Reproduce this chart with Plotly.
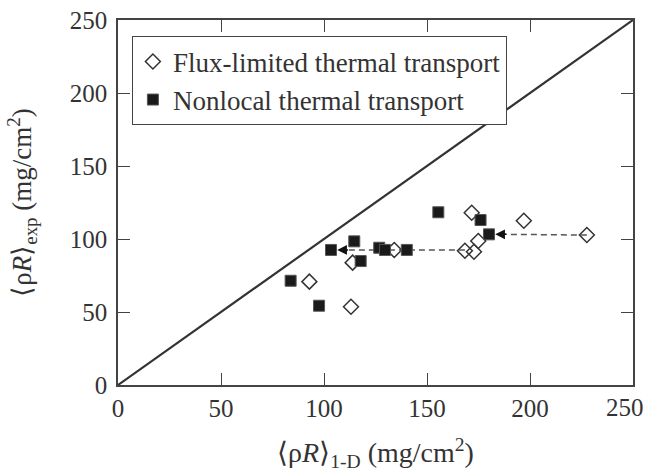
import plotly.graph_objects as go

# Flux-limited thermal transport (open diamonds)
flux_x = [92.9, 113.1, 113.9, 134.1, 168.4, 171.7, 172.8, 174.9, 197.0, 227.6]
flux_y = [70.8, 53.6, 83.8, 92.5, 92.0, 118.0, 91.3, 98.6, 112.5, 102.7]

# Nonlocal thermal transport (filled squares)
nonloc_x = [83.8, 97.6, 103.4, 114.7, 117.8, 126.8, 129.6, 140.2, 155.5, 176.0, 180.1]
nonloc_y = [71.4, 54.3, 92.5, 98.4, 84.9, 94.0, 92.5, 92.5, 118.3, 113.0, 103.2]

# Arrows: from flux-limited point to nonlocal point
arrow_from = [(227.6, 102.7), (168.4, 92.5)]
arrow_to = [(180.1, 103.2), (103.4, 92.5)]

diag = [0, 250]
ticks = [0, 50, 100, 150, 200, 250]
x_tick_labels = ["0", "50", "100", "150", "200", ""]
x_last_label = "250"   # drawn slightly inward so it fits the page edge
y_tick_labels = ["0", "50", "100", "150", "200", "250"]

font_family = "Liberation Serif"
FS = 25

fig = go.Figure()

fig.add_trace(go.Scatter(x=diag, y=diag, mode="lines",
                         line=dict(color="#333333", width=2.2),
                         showlegend=False, hoverinfo="skip"))

for (x0, y0), (x1, y1) in zip(arrow_from, arrow_to):
    tip = x1 + 3
    fig.add_trace(go.Scatter(x=[x0, tip + 4], y=[y0, y1], mode="lines",
                             line=dict(color="#555555", width=1.5, dash="6px,4px"),
                             showlegend=False, hoverinfo="skip"))
    fig.add_annotation(x=tip, y=y1, ax=tip + 6, ay=y1, xref="x", yref="y",
                       axref="x", ayref="y", showarrow=True, arrowhead=2,
                       arrowsize=1.3, arrowwidth=1.5, arrowcolor="#111111",
                       text="")

fig.add_trace(go.Scatter(x=flux_x, y=flux_y, mode="markers",
                         name="Flux-limited thermal transport",
                         marker=dict(symbol="diamond-open", size=11.5,
                                     color="#333333", line=dict(width=1.5, color="#333333"))))

fig.add_trace(go.Scatter(x=nonloc_x, y=nonloc_y, mode="markers",
                         name="Nonlocal thermal transport",
                         marker=dict(symbol="square", size=11,
                                     color="#1a1a1a", line=dict(width=1, color="#555555"))))

fig.add_annotation(x=ticks[-1], y=0, xref="x", yref="paper", text=x_last_label,
                   showarrow=False, xanchor="center", yanchor="middle",
                   xshift=-8, yshift=-22,
                   font=dict(family=font_family, size=FS, color="#333333"))

axis_common = dict(range=[0, 250], ticks="inside", ticklen=12,
                   tickwidth=1.3, tickcolor="#444444", showline=True, linecolor="#444444",
                   linewidth=1.5, mirror="ticks", showgrid=False, zeroline=False,
                   automargin=False, ticklabeloverflow="allow",
                   tickfont=dict(family=font_family, size=FS, color="#333333"))

fig.update_layout(
    width=647, height=474,
    margin=dict(l=118, r=14, t=20, b=89),
    plot_bgcolor="white", paper_bgcolor="white",
    font=dict(family=font_family, color="#333333", size=FS),
    xaxis=dict(**axis_common, tickvals=ticks, ticktext=x_tick_labels,
               title=dict(text="⟨ρ<i>R</i>⟩<sub>1-D</sub> (mg/cm<sup>2</sup>)",
                          font=dict(family=font_family, size=28, color="#333333"),
                          standoff=22)),
    yaxis=dict(**axis_common, tickvals=ticks, ticktext=y_tick_labels, ticklabelstandoff=4,
               title=dict(text="⟨ρ<i>R</i>⟩<sub>exp</sub> (mg/cm<sup>2</sup>)",
                          font=dict(family=font_family, size=27, color="#333333"),
                          standoff=30)),
    legend=dict(x=0.027, y=0.955, xanchor="left", yanchor="top",
                bgcolor="white", bordercolor="#444444", borderwidth=1,
                font=dict(family=font_family, size=27, color="#333333"),
                itemwidth=30, tracegroupgap=0),
)

fig.write_html("out.html", config={"displayModeBar": False},
               post_script="document.body.style.margin='0';document.body.style.overflow='hidden';")
